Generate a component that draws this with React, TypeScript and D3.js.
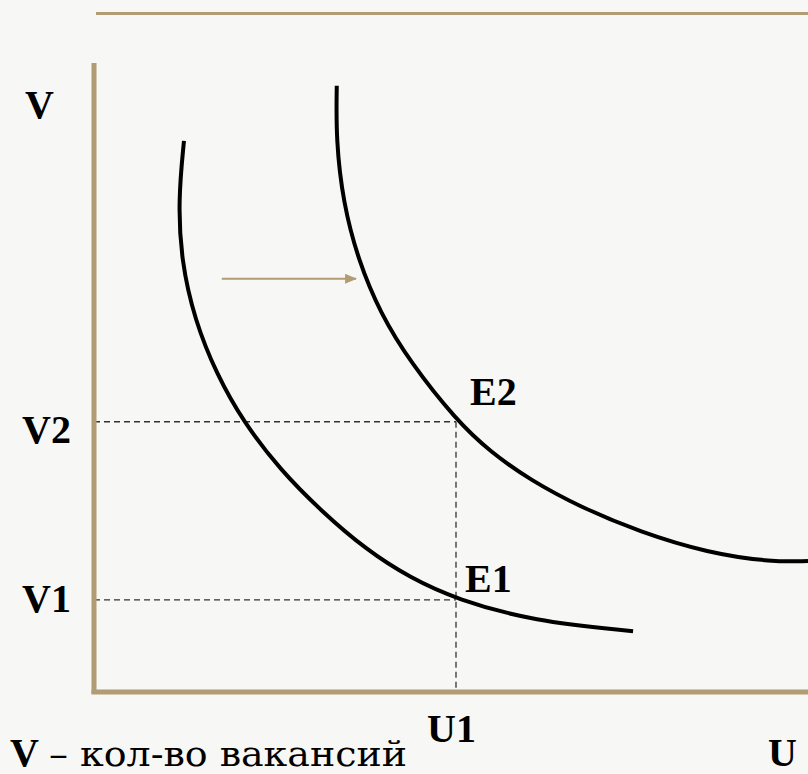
import React, { useEffect } from "react";
import * as d3 from "d3";

// Data coordinates: U (unemployment) on x, V (vacancies) on y, both 0..100
const curve1U = [12.6, 11.8, 12.2, 14.1, 17.2, 20.9, 26.1, 31.7, 38.2, 44.3, 50.7, 61.5, 75.5];
const curve1V = [87.9, 78.5, 68.9, 59.3, 50.6, 43.1, 35.4, 29.0, 22.6, 18.2, 14.8, 11.3, 9.7];
const curve2U = [34.0, 33.9, 34.9, 37.0, 40.1, 44.3, 50.7, 55.5, 61.1, 68.1, 76.5, 85.9, 95.1, 100];
const curve2V = [96.7, 88.0, 78.0, 68.9, 60.4, 52.6, 43.4, 38.3, 33.8, 29.5, 25.5, 22.2, 20.7, 20.9];
const U1 = 50.7;
const V1 = 14.7;
const V2 = 43.1;
const arrowU = [17.9, 36.7];
const arrowV = 65.9;

const W = 808;
const H = 774;
const TAN = "#b29c74";

export default function App() {
  useEffect(() => {
    document.body.style.margin = "0";
  }, []);

  const x = d3.scaleLinear().domain([0, 100]).range([94, 808]);
  const y = d3.scaleLinear().domain([0, 100]).range([692, 65]);

  const line = d3
    .line<[number, number]>()
    .x((d) => x(d[0]))
    .y((d) => y(d[1]))
    .curve(d3.curveBasis);

  const c1 = curve1U.map((u, i) => [u, curve1V[i]] as [number, number]);
  const c2 = curve2U.map((u, i) => [u, curve2V[i]] as [number, number]);

  const serif = "Liberation Serif";
  const fs = 40;

  return (
    <svg width={W} height={H} style={{ display: "block" }} xmlns="http://www.w3.org/2000/svg">
      <defs>
        <marker id="ah" viewBox="0 0 12 10" refX="11" refY="5" markerWidth="12" markerHeight="10" markerUnits="userSpaceOnUse" orient="auto">
          <path d="M0,0 L12,5 L0,10 Z" fill={TAN} />
        </marker>
      </defs>
      <rect x={0} y={0} width={W} height={H} fill="#f7f7f6" />
      {/* top decorative line */}
      <line x1={96} x2={808} y1={13.5} y2={13.5} stroke={TAN} strokeWidth={3} />

      {/* dashed guides */}
      <g stroke="#333" strokeWidth={1.3} strokeDasharray="6 4" fill="none">
        <line x1={x(0)} x2={x(U1)} y1={y(V2)} y2={y(V2)} />
        <line x1={x(0)} x2={x(U1)} y1={y(V1)} y2={y(V1)} />
        <line x1={x(U1)} x2={x(U1)} y1={y(V2)} y2={y(0) + 2} />
      </g>

      {/* axes */}
      <line x1={x(0)} x2={x(0)} y1={y(100) - 2} y2={y(0) + 2} stroke={TAN} strokeWidth={5} />
      <line x1={x(0) - 2.5} x2={808} y1={y(0)} y2={y(0)} stroke={TAN} strokeWidth={5} />

      {/* curves */}
      <path d={line(c1) || ""} fill="none" stroke="#000" strokeWidth={4} />
      <path d={line(c2) || ""} fill="none" stroke="#000" strokeWidth={4} />

      {/* shift arrow */}
      <line x1={x(arrowU[0])} x2={x(arrowU[1])} y1={y(arrowV)} y2={y(arrowV)} stroke={TAN} strokeWidth={2} markerEnd="url(#ah)" />

      {/* labels */}
      <g style={{ fontFamily: serif }} fontWeight="bold" fontSize={fs} fill="#000">
        <text x={25} y={118}>V</text>
        <text x={22} y={443}>V2</text>
        <text x={22} y={612}>V1</text>
        <text x={470} y={405}>E2</text>
        <text x={465} y={592}>E1</text>
        <text x={427} y={742}>U1</text>
        <text x={768} y={766}>U</text>
        <text x={10} y={766}>V</text>
      </g>
      <text
        x={49}
        y={766}
        style={{ fontFamily: "'DejaVu Serif Condensed', 'DejaVu Serif', serif" }}
        fontSize={36}
        fill="#000"
        textLength={358}
        lengthAdjust="spacingAndGlyphs"
      >
        – кол-во вакансий
      </text>
    </svg>
  );
}
